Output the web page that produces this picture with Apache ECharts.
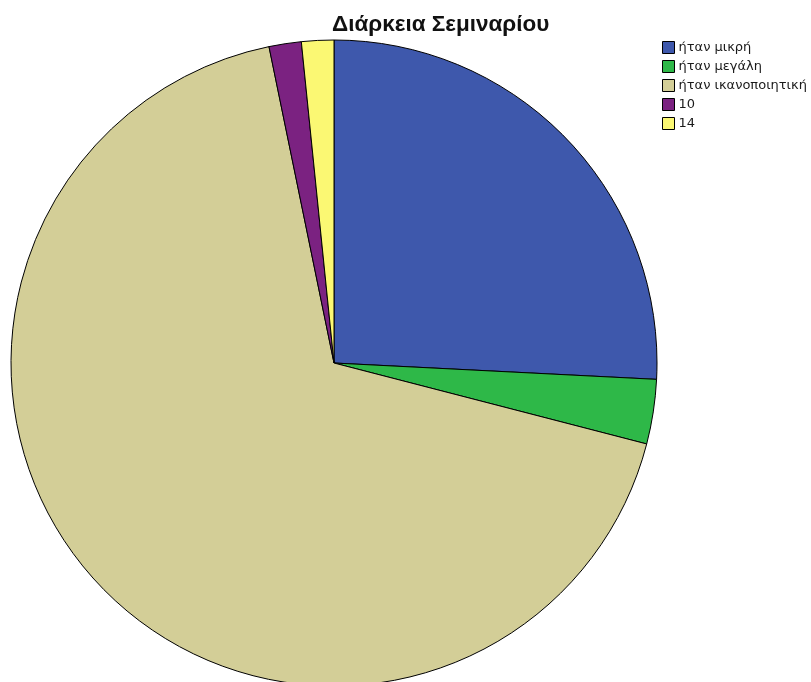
<!DOCTYPE html>
<html>
<head>
<meta charset="utf-8">
<script src="https://cdn.jsdelivr.net/npm/echarts@6/dist/echarts.min.js"></script>
<style>
  html, body { margin: 0; padding: 0; background: #ffffff; }
  #chart { width: 811px; height: 682px; }
</style>
</head>
<body>
<div id="chart"></div>
<script>
// Seminar duration responses (counts)
const categories = ['ήταν μικρή', 'ήταν μεγάλη', 'ήταν ικανοποιητική', '10', '14'];
const counts = [16, 2, 42, 1, 1];
const colors = ['#3e58ac', '#2eb848', '#d3ce97', '#7b2281', '#fbf873'];

const chart = echarts.init(document.getElementById('chart'));
chart.setOption({
  animation: false,
  backgroundColor: '#ffffff',
  title: {
    text: 'Διάρκεια Σεμιναρίου',
    left: 332,
    top: 13,
    textStyle: { fontFamily: 'Liberation Sans, Arial, sans-serif', fontSize: 22.5, fontWeight: 'bold', color: '#111' },
    padding: 0
  },
  legend: {
    orient: 'vertical',
    left: 657,
    top: 36,
    itemWidth: 12,
    itemHeight: 12,
    itemGap: 6,
    icon: 'rect',
    data: categories,
    textStyle: { fontFamily: 'DejaVu Sans, sans-serif', fontSize: 13, color: '#1a1a1a', padding: [0, 0, 0, -1] },
    itemStyle: { borderColor: '#000', borderWidth: 1 }
  },
  series: [{
    type: 'pie',
    center: [334, 363],
    radius: 323,
    startAngle: 90,
    clockwise: true,
    label: { show: false },
    labelLine: { show: false },
    emphasis: { disabled: true },
    itemStyle: { borderColor: '#000', borderWidth: 1 },
    data: categories.map((name, i) => ({ name, value: counts[i], itemStyle: { color: colors[i] } }))
  }]
});
</script>
</body>
</html>
